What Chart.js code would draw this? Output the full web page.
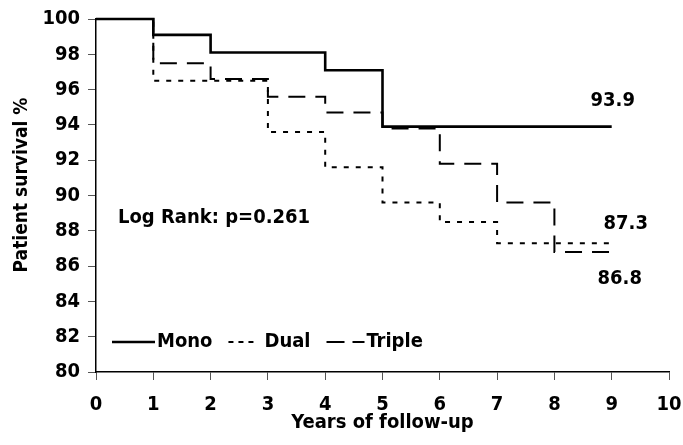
<!DOCTYPE html>
<html>
<head>
<meta charset="utf-8">
<script src="https://cdn.jsdelivr.net/npm/chart.js@4"></script>
<style>
  html, body { margin: 0; padding: 0; background: #fff; }
  #wrap { width: 683px; height: 445px; }
</style>
</head>
<body>
<div id="wrap"><canvas id="c" width="683" height="445"></canvas></div>
<script>
// ---- data ----
const monoYears   = [0, 1, 2, 4, 5, 9];
const monoSurv    = [100, 99.1, 98.1, 97.1, 93.9, 93.9];
const dualYears   = [0, 1, 3, 4, 5, 6, 7, 9];
const dualSurv    = [100, 96.5, 93.6, 91.6, 89.6, 88.5, 87.3, 87.3];
const tripleYears = [0, 1, 2, 3, 4, 5, 6, 7, 8, 9];
const tripleSurv  = [100, 97.5, 96.6, 95.6, 94.7, 93.8, 91.8, 89.6, 86.8, 86.8];
const seriesNames = ['Mono', 'Dual', 'Triple'];
const endLabels   = ['93.9', '87.3', '86.8'];
const statText    = 'Log Rank: p=0.261';
const xTitle      = 'Years of follow-up';
const yTitle      = 'Patient survival %';

const FONT = '"DejaVu Sans Condensed", "DejaVu Sans", sans-serif';

function pts(xs, ys) { return xs.map((x, i) => ({ x: x, y: ys[i] })); }

const styles = [
  { borderWidth: 2.6, borderDash: [] },
  { borderWidth: 2,   borderDash: [5, 7] },
  { borderWidth: 2,   borderDash: [17, 10] }
];

const annot = {
  id: 'annot',
  afterDatasetsDraw(chart) {
    const ctx = chart.ctx, xs = chart.scales.x, ys = chart.scales.y, a = chart.chartArea;
    ctx.save();
    ctx.fillStyle = '#000';
    ctx.font = 'bold 20px ' + FONT;
    ctx.textBaseline = 'middle';
    // end-of-curve labels
    const offs = [[1, -26], [14, -19], [8, 27]];
    chart.data.datasets.forEach((ds, i) => {
      const last = ds.data[ds.data.length - 1];
      ctx.textAlign = 'center';
      ctx.fillText(endLabels[i], xs.getPixelForValue(last.x) + offs[i][0], ys.getPixelForValue(last.y) + offs[i][1]);
    });
    // statistic
    ctx.textAlign = 'left';
    ctx.fillText(statText, a.left + 22, 218);
    // y axis title
    ctx.save();
    ctx.font = 'bold 19px ' + FONT;
    ctx.translate(22, 185);
    ctx.rotate(-Math.PI / 2);
    ctx.textAlign = 'center';
    ctx.fillText(yTitle, 0, 0);
    ctx.restore();
    // legend
    let x = a.left + 16;
    const y = 342;
    const sampleW = [43, 25, 38];
    const gapAfter = [2, 11, 2];
    chart.data.datasets.forEach((ds, i) => {
      const gap = i === 0 ? 0 : 16;
      x += gap;
      ctx.beginPath();
      ctx.lineWidth = ds.borderWidth;
      ctx.setLineDash(i === 1 ? [5, 5] : (i === 2 ? [18, 8] : []));
      ctx.strokeStyle = '#000';
      ctx.moveTo(x, y); ctx.lineTo(x + sampleW[i], y);
      ctx.stroke();
      ctx.setLineDash([]);
      x += sampleW[i] + gapAfter[i];
      ctx.textAlign = 'left';
      ctx.fillText(ds.label, x, y);
      x += ctx.measureText(ds.label).width;
    });
    ctx.restore();
  }
};

new Chart(document.getElementById('c'), {
  type: 'line',
  data: {
    datasets: [
      { label: seriesNames[0], data: pts(monoYears, monoSurv) },
      { label: seriesNames[1], data: pts(dualYears, dualSurv) },
      { label: seriesNames[2], data: pts(tripleYears, tripleSurv) }
    ].map((d, i) => Object.assign(d, styles[i], {
      stepped: 'before', borderColor: '#000', backgroundColor: '#000',
      pointRadius: 0, fill: false, clip: false, borderCapStyle: 'butt'
    }))
  },
  options: {
    responsive: false,
    animation: false,
    layout: { padding: { left: 0, right: 14, top: 19, bottom: 0 } },
    plugins: { legend: { display: false }, tooltip: { enabled: false } },
    scales: {
      x: {
        type: 'linear', min: 0, max: 10,
        afterFit(s) { s.height = 73; s.paddingLeft = 0; s.paddingRight = 0; },
        ticks: { stepSize: 1, color: '#000', font: { family: FONT, size: 20, weight: 'bold' }, padding: 13, maxRotation: 0 },
        grid: { drawOnChartArea: false, drawTicks: true, tickLength: 8, color: '#555', lineWidth: 1 },
        border: { color: '#000', width: 1.5 },
        title: { display: true, text: xTitle, color: '#000', font: { family: FONT, size: 20, weight: 'bold' }, padding: { top: 0, bottom: 10 } }
      },
      y: {
        min: 80, max: 100,
        afterFit(s) { s.width = 96; s.paddingTop = 0; s.paddingBottom = 0; },
        ticks: { stepSize: 2, color: '#000', font: { family: FONT, size: 20, weight: 'bold' }, padding: 8 },
        grid: { drawOnChartArea: false, drawTicks: true, tickLength: 8, color: '#555', lineWidth: 1 },
        border: { color: '#000', width: 1.5 },
        title: { display: false }
      }
    }
  },
  plugins: [annot]
});
</script>
</body>
</html>
